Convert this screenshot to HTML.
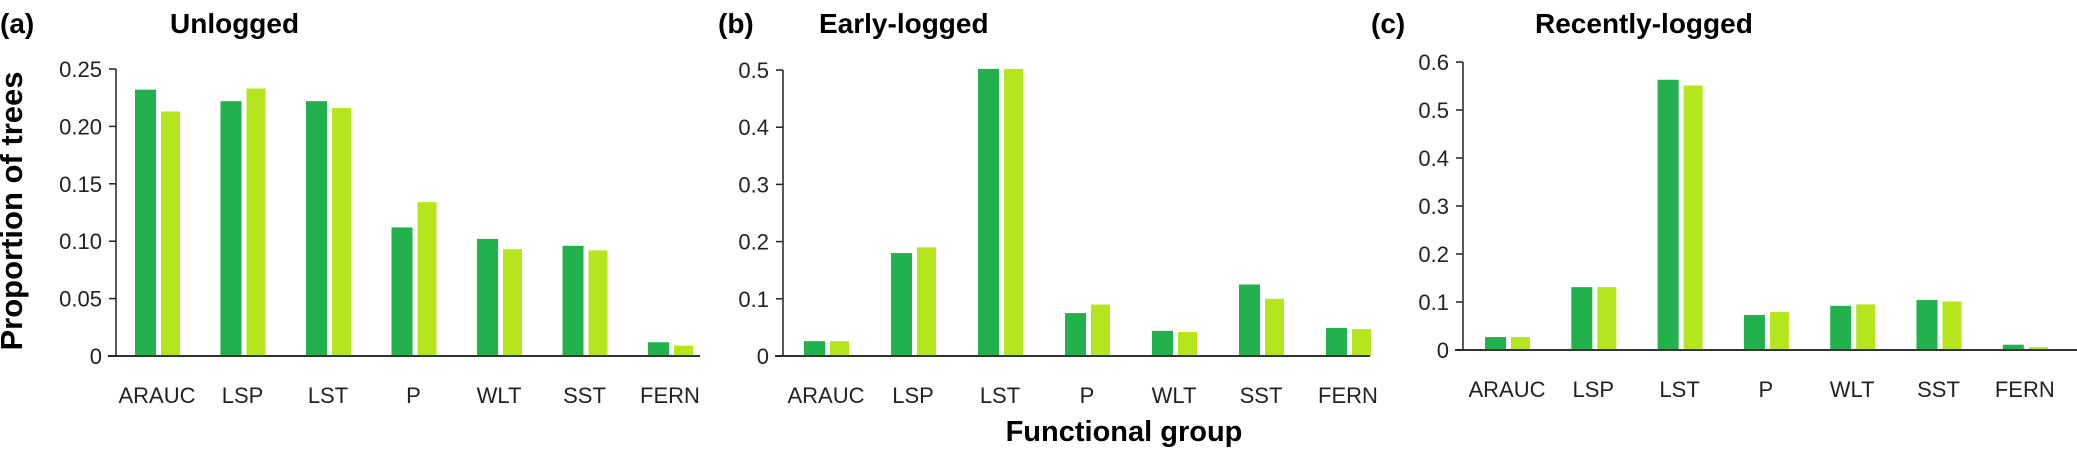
<!DOCTYPE html>
<html><head><meta charset="utf-8"><style>
body{margin:0;background:#fff;width:2077px;height:459px;overflow:hidden}
svg{display:block}
text{font-family:"Liberation Sans Narrow","Liberation Sans",sans-serif;fill:#222}
.tick{font-size:22px}
.cat{font-size:22px}
.ttl{font-size:28px;font-weight:bold;fill:#000}
</style></head><body>
<svg id="chart" width="2077" height="459">
<text x="22" y="211" class="ttl" text-anchor="middle" transform="rotate(-90 22 211)" style="font-family:'Liberation Sans',sans-serif;font-size:31px">Proportion of trees</text>
<text x="1124" y="441" class="ttl" text-anchor="middle" style="font-size:29px">Functional group</text>
</svg>
<script>
const categories=["ARAUC","LSP","LST","P","WLT","SST","FERN"];
const unloggedA=[0.232,0.222,0.222,0.112,0.102,0.096,0.012];
const unloggedB=[0.213,0.233,0.216,0.134,0.093,0.092,0.009];
const earlyA=[0.026,0.18,0.502,0.075,0.044,0.125,0.049];
const earlyB=[0.026,0.19,0.502,0.09,0.042,0.1,0.047];
const recentA=[0.027,0.131,0.563,0.073,0.092,0.104,0.011];
const recentB=[0.027,0.131,0.551,0.079,0.095,0.101,0.006];
const ticksA=["0","0.05","0.10","0.15","0.20","0.25"];
const ticksB=["0","0.1","0.2","0.3","0.4","0.5"];
const ticksC=["0","0.1","0.2","0.3","0.4","0.5","0.6"];
const NS="http://www.w3.org/2000/svg";
const svg=document.getElementById('chart');
function mk(tag,attrs,parent){const e=document.createElementNS(NS,tag);for(const k in attrs)e.setAttribute(k,attrs[k]);(parent||svg).appendChild(e);return e;}
const panels=[
 {id:'a',label:'(a)',title:'Unlogged',lx:0,tx:170,axisX:116,zeroY:356,topY:69,max:0.25,ticks:ticksA,step:0.05,first:135,pitch:85.5,s1:unloggedA,s2:unloggedB,end:700},
 {id:'b',label:'(b)',title:'Early-logged',lx:718,tx:819,axisX:783,zeroY:356,topY:70,max:0.5,ticks:ticksB,step:0.1,first:804,pitch:87,s1:earlyA,s2:earlyB,end:1370},
 {id:'c',label:'(c)',title:'Recently-logged',lx:1371,tx:1535,axisX:1463,zeroY:350,topY:62,max:0.6,ticks:ticksC,step:0.1,first:1485,pitch:86.3,s1:recentA,s2:recentB,end:2077}
];
panels.forEach(p=>{
 const g=mk('g',{});
 
 
 const y=v=>p.zeroY-(v/p.max)*(p.zeroY-p.topY);
 const lab=mk('text',{x:p.lx,y:33,class:'ttl'},g);lab.textContent=p.label;
 
 
 const t=mk('text',{x:p.tx,y:33,class:'ttl'},g);t.textContent=p.title;
 
 
 p.s1.forEach((v,i)=>{
  const x0=p.first+i*p.pitch;
  const b1=mk('rect',{x:x0,y:y(v),width:21,height:p.zeroY-y(v),fill:'#22b14c'},g);
  
  
  const v2=p.s2[i];
  const b2=mk('rect',{x:x0+26,y:y(v2),width:19,height:p.zeroY-y(v2),fill:'#b5e61d'},g);
  
  
  const c=mk('text',{x:x0+22,y:p.zeroY+47,class:'cat','text-anchor':'middle'},g);c.textContent=categories[i];
  
  
 });
 const ax=mk('line',{x1:p.axisX,y1:p.topY,x2:p.axisX,y2:p.zeroY,stroke:'#222','stroke-width':1.5},g);
 
 
 const bx=mk('line',{x1:p.axisX-8,y1:p.zeroY,x2:p.end,y2:p.zeroY,stroke:'#333','stroke-width':2},g);
 
 
 p.ticks.forEach((lbl,i)=>{
  const ty=y(i*p.step);
  const tk=mk('line',{x1:p.axisX-7,y1:ty,x2:p.axisX,y2:ty,stroke:'#222','stroke-width':1.5},g);
  
  
  const tt=mk('text',{x:p.axisX-14,y:ty+8,class:'tick','text-anchor':'end'},g);tt.textContent=lbl;
  
  
 });
});
</script>
</body></html>
